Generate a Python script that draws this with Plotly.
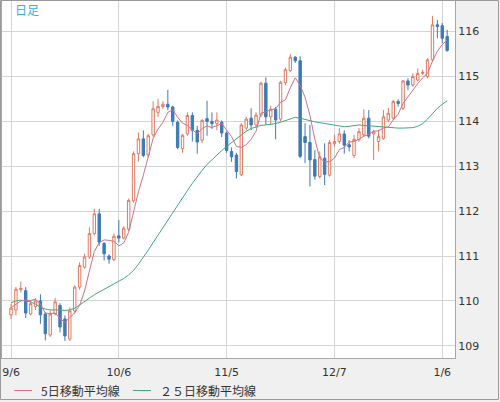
import pandas as pd
import plotly.graph_objects as go

# 日足 USD/JPY  2021/9/6 - 2022/1/7 (営業日)
fechas = [d.strftime("%Y-%m-%d") for d in pd.bdate_range("2021-09-06", "2022-01-07")]

apertura = [109.69, 109.80, 110.25, 110.23, 109.71, 109.88, 110.00, 109.71, 109.24, 109.71,
            109.90, 109.60, 109.15, 109.78, 110.31, 110.75, 110.98, 111.50, 111.94, 111.28,
            111.00, 110.92, 111.45, 111.40, 111.60, 112.23, 113.28, 113.61, 113.25, 113.70,
            114.20, 114.33, 114.38, 114.32, 113.98, 113.39, 113.72, 114.13, 113.80, 113.58,
            114.06, 114.00, 113.95, 113.98, 113.74, 113.33, 113.25, 112.81, 113.85, 114.07,
            113.92, 114.14, 114.85, 114.10, 114.27, 114.05, 114.86, 115.13, 115.43, 115.35,
            113.66, 113.53, 113.15, 112.77, 113.18, 112.80, 113.50, 113.55, 113.72, 113.48,
            113.24, 113.59, 113.70, 114.07, 113.72, 113.55, 113.62, 114.03, 114.07, 114.44,
            114.29, 114.90, 114.81, 114.92, 115.07, 115.00, 115.37, 116.15, 116.13, 115.89]
maximo = [109.94, 110.31, 110.43, 110.31, 110.01, 110.06, 110.15, 109.75, 109.79, 110.07,
          109.95, 109.68, 109.86, 110.35, 110.86, 111.05, 111.64, 112.05, 112.05, 111.31,
          111.04, 111.50, 111.80, 111.66, 112.28, 113.33, 113.75, 113.80, 113.72, 114.45,
          114.50, 114.45, 114.70, 114.35, 114.02, 113.72, 114.20, 114.20, 113.90, 114.05,
          114.46, 114.20, 114.20, 114.02, 113.78, 113.42, 113.30, 113.96, 114.10, 114.29,
          114.20, 114.88, 114.98, 114.35, 114.32, 114.90, 115.20, 115.50, 115.45, 115.45,
          113.96, 113.92, 113.36, 113.33, 113.51, 113.58, 113.70, 113.85, 113.80, 113.58,
          113.70, 113.85, 114.27, 114.25, 113.81, 113.81, 114.25, 114.30, 114.48, 114.49,
          114.92, 114.96, 115.07, 115.18, 115.15, 115.41, 116.35, 116.26, 116.19, 116.04]
minimo = [109.60, 109.68, 110.19, 109.62, 109.68, 109.80, 109.49, 109.12, 109.20, 109.68,
          109.30, 109.11, 109.11, 109.72, 110.25, 110.72, 110.94, 111.46, 111.23, 110.90,
          110.83, 110.88, 111.30, 111.37, 111.56, 112.19, 113.10, 113.20, 113.20, 113.65,
          114.10, 114.28, 114.25, 113.90, 113.38, 113.30, 113.68, 113.55, 113.28, 113.52,
          113.68, 113.83, 113.80, 113.65, 113.30, 113.10, 112.73, 112.78, 113.80, 113.80,
          113.85, 114.10, 113.92, 113.93, 113.60, 114.00, 114.80, 115.10, 115.30, 113.18,
          113.07, 112.55, 112.70, 112.73, 112.58, 112.77, 113.44, 113.50, 113.28, 113.33,
          113.18, 113.55, 113.66, 113.62, 113.14, 113.33, 113.59, 113.98, 114.03, 114.33,
          114.25, 114.70, 114.77, 114.89, 115.03, 114.96, 115.33, 115.85, 115.74, 115.55]
cierre = [109.84, 110.26, 110.28, 109.73, 109.94, 110.00, 109.69, 109.27, 109.71, 109.98,
          109.42, 109.22, 109.78, 110.31, 110.79, 110.98, 111.50, 111.94, 111.31, 111.05,
          110.93, 111.44, 111.40, 111.62, 112.24, 113.28, 113.61, 113.24, 113.68, 114.28,
          114.33, 114.38, 114.32, 114.00, 113.42, 113.69, 114.13, 113.80, 113.54, 114.02,
          114.00, 113.95, 114.03, 113.74, 113.35, 113.21, 112.88, 113.92, 114.05, 113.92,
          114.14, 114.85, 114.10, 114.27, 114.03, 114.87, 115.15, 115.43, 115.35, 113.22,
          113.53, 113.14, 112.78, 113.21, 112.82, 113.53, 113.55, 113.72, 113.47, 113.43,
          113.60, 113.77, 114.07, 113.67, 113.77, 113.66, 114.10, 114.18, 114.44, 114.40,
          114.90, 114.81, 115.00, 115.07, 115.09, 115.37, 116.15, 116.11, 115.85, 115.58]

# medias móviles
media5 = [109.85, 109.93, 110.00, 110.02, 110.01, 110.04, 109.93, 109.73, 109.72, 109.73,
          109.61, 109.52, 109.62, 109.74, 109.90, 110.22, 110.67, 111.10, 111.30, 111.36,
          111.35, 111.33, 111.23, 111.29, 111.53, 112.00, 112.43, 112.80, 113.21, 113.62,
          113.83, 113.98, 114.20, 114.26, 114.09, 113.96, 113.91, 113.81, 113.72, 113.84,
          113.90, 113.86, 113.91, 113.95, 113.81, 113.66, 113.44, 113.42, 113.48, 113.60,
          113.78, 114.18, 114.21, 114.26, 114.28, 114.42, 114.48, 114.75, 114.97, 114.80,
          114.54, 114.13, 113.60, 113.18, 113.10, 113.10, 113.18, 113.37, 113.42, 113.54,
          113.55, 113.60, 113.67, 113.71, 113.78, 113.79, 113.85, 113.88, 114.03, 114.16,
          114.40, 114.55, 114.71, 114.84, 114.97, 115.07, 115.34, 115.56, 115.71, 115.81]
media25 = [109.96, 110.00, 110.02, 110.00, 109.98, 109.93, 109.86, 109.82, 109.80, 109.80,
           109.79, 109.79, 109.80, 109.84, 109.91, 109.99, 110.07, 110.14, 110.20, 110.26,
           110.31, 110.37, 110.43, 110.50, 110.58, 110.68, 110.82, 110.97, 111.13, 111.30,
           111.47, 111.64, 111.81, 111.98, 112.14, 112.30, 112.46, 112.62, 112.77, 112.91,
           113.04, 113.15, 113.25, 113.35, 113.44, 113.53, 113.62, 113.71, 113.78, 113.84,
           113.88, 113.91, 113.92, 113.93, 113.95, 113.98, 114.02, 114.06, 114.09, 114.07,
           114.04, 114.01, 113.99, 113.97, 113.95, 113.93, 113.91, 113.89, 113.88, 113.89,
           113.91, 113.92, 113.91, 113.90, 113.89, 113.88, 113.87, 113.87, 113.86, 113.85,
           113.85, 113.85, 113.86, 113.89, 113.95, 114.05, 114.18, 114.29, 114.38, 114.46]

ticks_x = ["2021-09-06", "2021-10-06", "2021-11-05", "2021-12-07", "2022-01-06"]
etiquetas_x = ["9/6", "10/6", "11/5", "12/7", "1/6"]
ticks_y = [109, 110, 111, 112, 113, 114, 115, 116]

# colores
ROJO = "#e07a5f"
AZUL = "#3d7ab8"
ROSA = "#d0708c"
VERDE = "#3faa7c"
REJILLA = "#d4d4d4"

W, H = 500, 402
ML, MR, MT, MB = 2, 45, 1, 44
PW, PH = W - ML - MR, H - MT - MB


def px_x(p):
    return (p - ML) / PW


def px_y(p):
    return (H - MB - p) / PH


fig = go.Figure()

fig.add_trace(go.Candlestick(
    x=fechas, open=apertura, high=maximo, low=minimo, close=cierre,
    increasing=dict(line=dict(color=ROJO, width=1), fillcolor="white"),
    decreasing=dict(line=dict(color=AZUL, width=1), fillcolor=AZUL),
    whiskerwidth=0, showlegend=False, hoverinfo="skip"
))

fig.add_trace(go.Scatter(x=fechas, y=media25, mode="lines",
                         line=dict(color=VERDE, width=1), showlegend=False))
fig.add_trace(go.Scatter(x=fechas, y=media5, mode="lines",
                         line=dict(color=ROSA, width=1), showlegend=False))

fig.update_layout(
    width=W, height=H,
    margin=dict(l=ML, r=MR, t=MT, b=MB, autoexpand=False),
    paper_bgcolor="#f0f0f0",
    plot_bgcolor="white",
    font=dict(family="DejaVu Sans", size=11, color="#333333"),
    xaxis=dict(
        type="category", range=[-1.84, 90.6], automargin=False,
        tickvals=ticks_x, ticktext=etiquetas_x,
        showgrid=True, gridcolor=REJILLA, gridwidth=1,
        showline=True, linecolor="#a8a8a8", mirror=True,
        ticks="", ticklabelstandoff=4,
        rangeslider=dict(visible=False), fixedrange=True,
    ),
    yaxis=dict(
        side="right", range=[108.73, 116.68], automargin=False,
        tickvals=ticks_y,
        showgrid=True, gridcolor=REJILLA, gridwidth=1,
        showline=True, linecolor="#a8a8a8", mirror=True,
        ticks="", zeroline=False, fixedrange=True,
    ),
)

# marco exterior
fig.add_shape(type="rect", xref="paper", yref="paper",
              x0=px_x(0.5), x1=px_x(W - 1.5), y0=px_y(H - 2.5), y1=px_y(0.5),
              line=dict(color="#9a9a9a", width=1), fillcolor="rgba(0,0,0,0)", layer="above")

fig.add_annotation(text="日足", xref="paper", yref="paper",
                   x=px_x(13), y=px_y(9), xanchor="left", yanchor="middle", showarrow=False,
                   font=dict(family="Noto Sans CJK JP", size=12, color="#3aaee0"))

# leyenda
leyenda = [("5日移動平均線", ROSA, 14), ("２５日移動平均線", VERDE, 133)]
for texto, color, x0 in leyenda:
    fig.add_shape(type="line", xref="paper", yref="paper",
                  x0=px_x(x0), x1=px_x(x0 + 18), y0=px_y(390.5), y1=px_y(390.5),
                  line=dict(color=color, width=1))
    fig.add_annotation(text=texto, xref="paper", yref="paper",
                       x=px_x(x0 + 25), y=px_y(390.5), xanchor="left", yanchor="middle",
                       showarrow=False,
                       font=dict(family="Noto Sans CJK JP", size=12, color="#333333"))

# sin margen del body para que la figura ocupe toda la ventana
fig.write_html("out.html", config={"displayModeBar": False},
               post_script="document.body.style.margin='0';document.body.style.overflow='hidden';")
